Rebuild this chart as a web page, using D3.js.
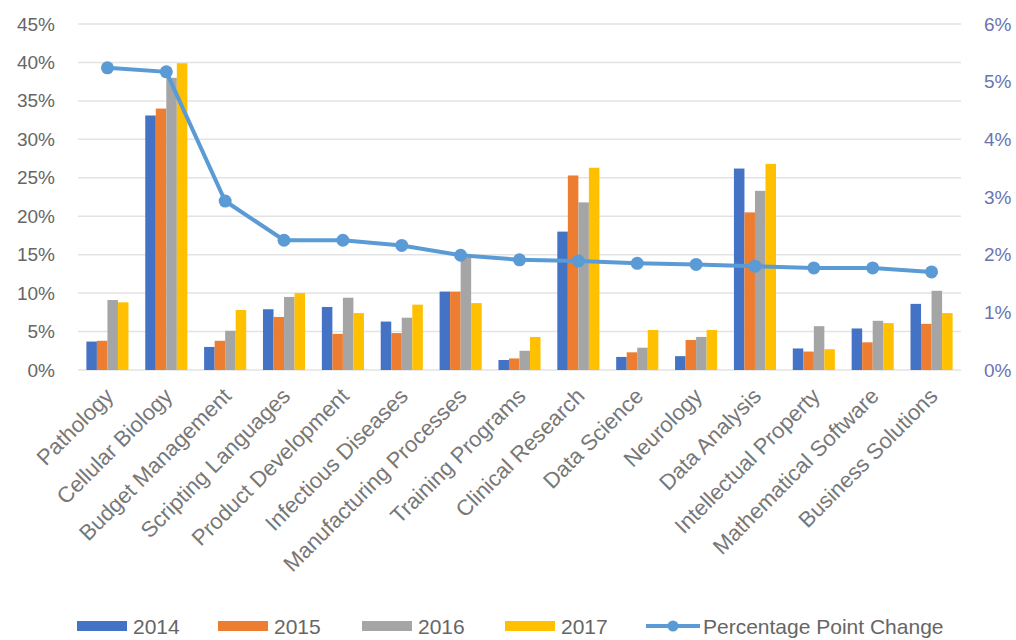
<meta charset="utf-8">
<script src="https://cdn.jsdelivr.net/npm/d3@7"></script>
<style>
  body { margin: 0; background: #fff; }
  text { font-family: "Liberation Sans", Arial, sans-serif; }
</style>
<div id="chart"></div>
<script>
// categories + series
var categories = ["Pathology", "Cellular Biology", "Budget Management", "Scripting Languages",
  "Product Development", "Infectious Diseases", "Manufacturing Processes", "Training Programs",
  "Clinical Research", "Data Science", "Neurology", "Data Analysis", "Intellectual Property",
  "Mathematical Software", "Business Solutions"];
var years = ["2014", "2015", "2016", "2017"];
var v2014 = [3.7, 33.1, 3.0, 7.9, 8.2, 6.3, 10.2, 1.3, 18.0, 1.7, 1.8, 26.2, 2.8, 5.4, 8.6];
var v2015 = [3.8, 34.0, 3.8, 6.9, 4.7, 4.8, 10.2, 1.5, 25.3, 2.3, 3.9, 20.5, 2.4, 3.6, 6.0];
var v2016 = [9.1, 38.0, 5.1, 9.5, 9.4, 6.8, 14.6, 2.5, 21.8, 2.9, 4.3, 23.3, 5.7, 6.4, 10.3];
var v2017 = [8.8, 39.9, 7.8, 10.0, 7.4, 8.5, 8.7, 4.3, 26.3, 5.2, 5.2, 26.8, 2.7, 6.1, 7.4];
var ppChange = [5.24, 5.17, 2.93, 2.25, 2.25, 2.16, 1.99, 1.91, 1.89, 1.85, 1.83, 1.80, 1.77, 1.77, 1.70];
var leftTicks = [0, 5, 10, 15, 20, 25, 30, 35, 40, 45];
var rightTicks = [0, 1, 2, 3, 4, 5, 6];

var colors = {"2014": "#4472C4", "2015": "#ED7D31", "2016": "#A5A5A5", "2017": "#FFC000"};
var lineColor = "#5B9BD5";
var series = [v2014, v2015, v2016, v2017];

// note: "top" is taken by window.top, hence the plot* names
var W = 1016, H = 640;
var plotL = 78, plotR = 961, plotT = 24, plotB = 370;

var svg = d3.select("#chart").append("svg")
  .attr("width", W).attr("height", H);

var x = d3.scaleBand().domain(categories).range([plotL, plotR]).paddingInner(0.285).paddingOuter(0.1425);
var x1 = d3.scaleBand().domain(years).range([0, x.bandwidth()]);
var y = d3.scaleLinear().domain([0, 45]).range([plotB, plotT]);
var y2 = d3.scaleLinear().domain([0, 6]).range([plotB, plotT]);

// gridlines
svg.append("g")
  .selectAll("line").data(leftTicks).enter().append("line")
    .attr("x1", plotL).attr("x2", plotR)
    .attr("y1", function(d) { return y(d); }).attr("y2", function(d) { return y(d); })
    .attr("stroke", "#e3e3e3").attr("stroke-width", 1.5);

// left axis
var gl = svg.append("g")
  .attr("transform", "translate(" + (plotL - 20) + ",0)")
  .call(d3.axisLeft(y).tickValues(leftTicks).tickSize(0).tickFormat(function(d) { return d + "%"; }));
gl.select(".domain").remove();
gl.selectAll("text").attr("font-size", 19).attr("fill", "#666").attr("font-family", "Liberation Sans");

// right axis
var gr = svg.append("g")
  .attr("transform", "translate(" + (plotR + 20) + ",0)")
  .call(d3.axisRight(y2).tickValues(rightTicks).tickSize(0).tickFormat(function(d) { return d + "%"; }));
gr.select(".domain").remove();
gr.selectAll("text").attr("font-size", 19).attr("fill", "#6b74b0").attr("font-family", "Liberation Sans");

// bars
var groups = svg.append("g").selectAll("g").data(categories).enter().append("g")
  .attr("transform", function(d) { return "translate(" + x(d) + ",0)"; });

groups.selectAll("rect")
  .data(function(d, i) { return years.map(function(yr, j) { return {year: yr, value: series[j][i]}; }); })
  .enter().append("rect")
    .attr("x", function(d) { return x1(d.year); })
    .attr("y", function(d) { return y(d.value); })
    .attr("width", x1.bandwidth())
    .attr("height", function(d) { return plotB - y(d.value); })
    .attr("fill", function(d) { return colors[d.year]; });

// line series on secondary axis
var pts = categories.map(function(c, i) { return {cat: c, v: ppChange[i]}; });
svg.append("path")
  .datum(pts)
  .attr("fill", "none")
  .attr("stroke", lineColor)
  .attr("stroke-width", 4)
  .attr("d", d3.line()
    .x(function(d) { return x(d.cat) + x.bandwidth() / 2; })
    .y(function(d) { return y2(d.v); }));

svg.append("g").selectAll("circle").data(pts).enter().append("circle")
  .attr("cx", function(d) { return x(d.cat) + x.bandwidth() / 2; })
  .attr("cy", function(d) { return y2(d.v); })
  .attr("r", 6.5)
  .attr("fill", lineColor);

// category labels, rotated
var gx = svg.append("g")
  .attr("transform", "translate(0," + (plotB + 22) + ")")
  .call(d3.axisBottom(x).tickSize(0).tickPadding(0));
gx.select(".domain").remove();
gx.selectAll("text")
  .attr("font-size", 22)
  .attr("fill", "#777")
  .attr("font-family", "Liberation Sans")
  .attr("dy", "0.35em")
  .attr("transform", "translate(2,0) rotate(-45)")
  .style("text-anchor", "end");

// legend
var legend = [
  {label: "2014", x: 77, type: "bar", color: colors["2014"]},
  {label: "2015", x: 218, type: "bar", color: colors["2015"]},
  {label: "2016", x: 362, type: "bar", color: colors["2016"]},
  {label: "2017", x: 505, type: "bar", color: colors["2017"]},
  {label: "Percentage Point Change", x: 646, type: "line", color: lineColor}
];
var ly = 626;
var lg = svg.append("g").selectAll("g").data(legend).enter().append("g")
  .attr("transform", function(d) { return "translate(" + d.x + "," + ly + ")"; });
lg.filter(function(d) { return d.type === "bar"; }).append("rect")
  .attr("x", 0).attr("y", -5).attr("width", 50).attr("height", 10)
  .attr("fill", function(d) { return d.color; });
lg.filter(function(d) { return d.type === "line"; }).append("line")
  .attr("x1", 0).attr("x2", 54).attr("y1", 0).attr("y2", 0)
  .attr("stroke", lineColor).attr("stroke-width", 4);
lg.filter(function(d) { return d.type === "line"; }).append("circle")
  .attr("cx", 27).attr("cy", 0).attr("r", 5.5).attr("fill", lineColor);
lg.append("text")
  .attr("x", function(d) { return d.type === "bar" ? 56 : 57; })
  .attr("y", 0).attr("dy", "0.36em")
  .attr("font-size", 21).attr("fill", "#666")
  .text(function(d) { return d.label; });
</script>
